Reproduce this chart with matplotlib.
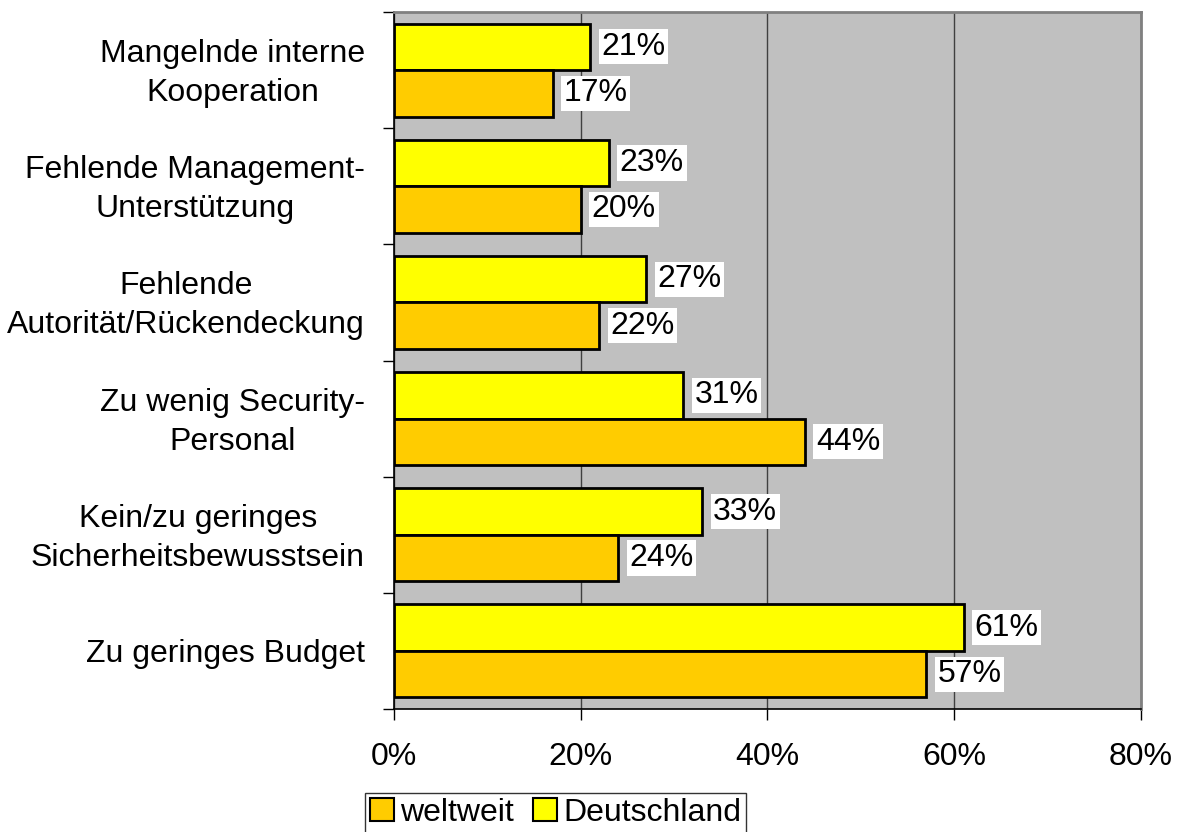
import matplotlib
matplotlib.use("Agg")
import matplotlib.pyplot as plt
import matplotlib.transforms as mtransforms
from matplotlib.patches import Patch
import numpy as np

categories = [
    "Mangelnde interne\nKooperation",
    "Fehlende Management-\nUnterstützung",
    "Fehlende\nAutorität/Rückendeckung",
    "Zu wenig Security-\nPersonal",
    "Kein/zu geringes\nSicherheitsbewusstsein",
    "Zu geringes Budget",
]
deutschland = [21, 23, 27, 31, 33, 61]
weltweit = [17, 20, 22, 44, 24, 57]
xticks = [0, 20, 40, 60, 80]
xticklabels = ["0%", "20%", "40%", "60%", "80%"]

plt.rcParams['font.family'] = ['Liberation Sans', 'DejaVu Sans']
FS = 23
DPI = 100

fig = plt.figure(figsize=(11.82, 8.32), dpi=DPI)
ax = fig.add_axes([394/1182, 1-709/832, 747/1182, (709-12)/832])
ax.set_facecolor('#C0C0C0')

y = np.arange(len(categories))
h = 0.4
ax.barh(y - h/2, deutschland, height=h, color='#FFFF00', edgecolor='black', linewidth=2, zorder=3)
ax.barh(y + h/2, weltweit, height=h, color='#FFCC00', edgecolor='black', linewidth=2, zorder=3)

for yi, v in zip(y, deutschland):
    ax.annotate(f"{v}%", (v, yi - h/2), xytext=(8, 0), textcoords='offset points',
                va='center', ha='left', fontsize=FS, zorder=5,
                bbox=dict(boxstyle='square,pad=0.08', fc='white', ec='none'))
for yi, v in zip(y, weltweit):
    ax.annotate(f"{v}%", (v, yi + h/2), xytext=(8, 0), textcoords='offset points',
                va='center', ha='left', fontsize=FS, zorder=5,
                bbox=dict(boxstyle='square,pad=0.08', fc='white', ec='none'))

ax.set_xlim(0, 80)
ax.set_ylim(len(categories) - 0.5, -0.5)
ax.set_xticks(xticks)
ax.set_xticklabels(xticklabels, fontsize=FS)
ax.xaxis.grid(True, color='#404040', linewidth=1, zorder=1)
ax.set_axisbelow(True)

# y ticks at band boundaries
ax.set_yticks(np.arange(-0.5, len(categories) + 0.5, 1.0))
ax.set_yticklabels([])
ax.tick_params(axis='y', which='major', length=8, width=1, direction='out')
ax.tick_params(axis='x', length=8, width=1, direction='out', pad=16)

# category labels: each line drawn centered within a block right-aligned left of the axis
renderer = fig.canvas.get_renderer()
GAP = 29      # px between label block and axis
CAP = 23      # px cap height
LINE = 39     # px baseline-to-baseline
base_trans = ax.get_yaxis_transform()
for yi, cat in zip(y, categories):
    lines = cat.split("\n")
    n = len(lines)
    texts = [ax.text(0, yi, ln, transform=base_trans, ha='center', va='baseline', fontsize=FS)
             for ln in lines]
    maxw = max(t.get_window_extent(renderer).width for t in texts)
    for i, t in enumerate(texts):
        dy_px = -(CAP/2 - (n - 1) * LINE/2 + i * LINE)
        dx_px = -(GAP + maxw/2)
        t.set_transform(base_trans + mtransforms.ScaledTranslation(dx_px/DPI, dy_px/DPI, fig.dpi_scale_trans))

for s in ['left', 'bottom']:
    ax.spines[s].set_color('black')
    ax.spines[s].set_linewidth(1.2)
for s in ['top', 'right']:
    ax.spines[s].set_color('#808080')
    ax.spines[s].set_linewidth(2)

handles = [Patch(facecolor='#FFCC00', edgecolor='black', linewidth=1.5, label='weltweit'),
           Patch(facecolor='#FFFF00', edgecolor='black', linewidth=1.5, label='Deutschland')]
leg = fig.legend(handles=handles, loc='upper left', bbox_to_anchor=(365/1182, 1-793/832),
                 ncol=2, fontsize=FS, frameon=True, fancybox=False, edgecolor='black',
                 handlelength=0.75, handleheight=0.75, handletextpad=0.2, columnspacing=0.6,
                 borderpad=0.15, borderaxespad=0)
leg.get_frame().set_linewidth(1)

fig.savefig('out.png', dpi=DPI)
